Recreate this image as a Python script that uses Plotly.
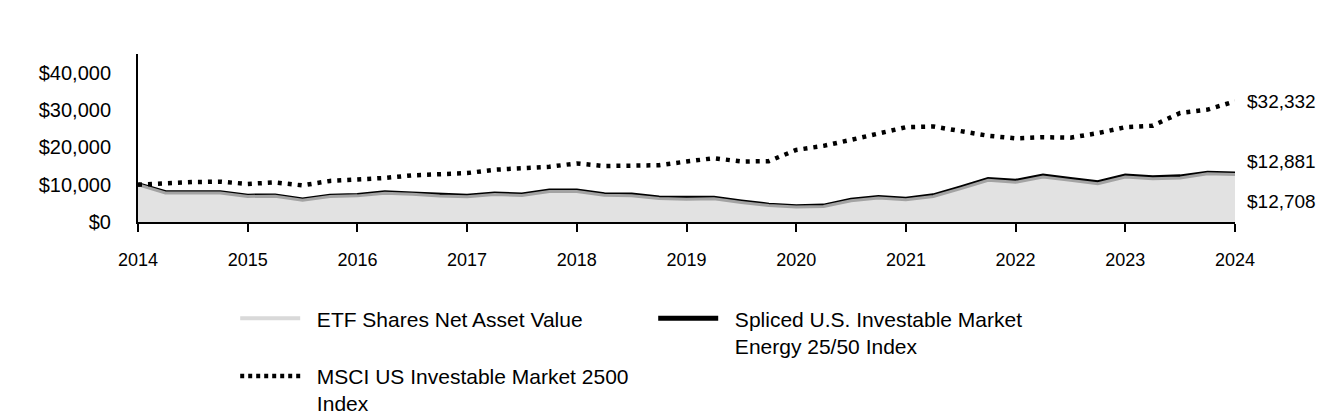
import plotly.graph_objects as go

quarters = [2014 + q * 0.25 for q in range(41)]

etf_nav = [10000, 7800, 7800, 7750, 6850, 6900, 5800, 6800, 7000, 7700, 7400,
           6950, 6750, 7350, 7100, 8150, 8150, 7150, 7050, 6300, 6100,
           6200, 5250, 4400, 4000, 4150, 5700, 6400, 5950, 6850, 8950,
           11150, 10650, 12050, 11150, 10250, 12050, 11600, 11800, 12900, 12708]

spliced_idx = [10000, 7850, 7860, 7820, 6920, 6980, 5880, 6890, 7100, 7810, 7520,
               7070, 6870, 7480, 7230, 8300, 8310, 7300, 7200, 6440, 6240,
               6350, 5380, 4510, 4100, 4260, 5850, 6560, 6100, 7020, 9160,
               11400, 10900, 12330, 11420, 10500, 12340, 11880, 12090, 13070, 12881]

msci_idx = [10000, 10500, 10700, 10800, 10200, 10600, 9800, 11000, 11300, 11800, 12500,
            12700, 13100, 14000, 14400, 14800, 15700, 15000, 15100, 15200, 16200,
            17100, 16200, 16300, 19300, 20400, 22000, 23800, 25400, 25600, 24400,
            23100, 22400, 22700, 22600, 23800, 25400, 25800, 29200, 30100, 32332]

year_ticks = list(range(2014, 2025))
y_ticks = [0, 10000, 20000, 30000, 40000]
y_ticktext = ["$0", "$10,000", "$20,000", "$30,000", "$40,000"]

PAD = "\u00a0\u00a0"
names = [PAD + "ETF Shares Net Asset Value",
         PAD + "Spliced U.S. Investable Market<br>" + PAD + "Energy 25/50 Index",
         PAD + "MSCI US Investable Market 2500<br>" + PAD + "Index"]

FONT = "Liberation Sans, Arial, sans-serif"

fig = go.Figure()

# Spliced index: thick black line, partly covered by the ETF area
fig.add_trace(go.Scatter(x=quarters, y=spliced_idx, mode="lines",
                         line=dict(color="#000000", width=5),
                         showlegend=False, hoverinfo="skip"))
# ETF area
fig.add_trace(go.Scatter(x=quarters, y=etf_nav, mode="lines", fill="tozeroy",
                         fillcolor="#e2e2e2",
                         line=dict(color="#a3a3a3", width=3),
                         showlegend=False, hoverinfo="skip"))
# MSCI dotted
fig.add_trace(go.Scatter(x=quarters, y=msci_idx, mode="lines",
                         line=dict(color="#000000", width=4.5, dash="4px,6px"),
                         showlegend=False, hoverinfo="skip"))

# Legend entries
fig.add_trace(go.Scatter(x=[None], y=[None], mode="lines", name=names[0],
                         line=dict(color="#d9d9d9", width=4)))
fig.add_trace(go.Scatter(x=[None], y=[None], mode="lines", name=names[1],
                         line=dict(color="#000000", width=5)))
fig.add_trace(go.Scatter(x=[None], y=[None], mode="lines", name=names[2],
                         line=dict(color="#000000", width=4.5, dash="4px,4px")))

# End labels
fig.add_annotation(x=quarters[-1], y=msci_idx[-1], xref="x", yref="y",
                   text=f"${msci_idx[-1]:,.0f}", showarrow=False,
                   xanchor="left", xshift=10, yshift=0)
fig.add_annotation(x=quarters[-1], y=spliced_idx[-1], xref="x", yref="y",
                   text=f"${spliced_idx[-1]:,.0f}", showarrow=False,
                   xanchor="left", xshift=10, yshift=12)
fig.add_annotation(x=quarters[-1], y=etf_nav[-1], xref="x", yref="y",
                   text=f"${etf_nav[-1]:,.0f}", showarrow=False,
                   xanchor="left", xshift=10, yshift=-27)

fig.update_layout(
    width=1344, height=420,
    margin=dict(l=138, r=109, t=54, b=198),
    paper_bgcolor="white", plot_bgcolor="white",
    font=dict(family=FONT, size=19, color="#000000"),
    annotationdefaults=dict(font=dict(family=FONT, size=18, color="#000000")),
    xaxis=dict(range=[2014, 2024], tickvals=year_ticks,
               ticktext=[str(y) for y in year_ticks],
               showline=True, linecolor="#000000", linewidth=2,
               ticks="outside", ticklen=8, tickwidth=2, tickcolor="#000000",
               showgrid=False, zeroline=False, ticklabelstandoff=12,
               tickfont=dict(size=18)),
    yaxis=dict(range=[0, 45000], tickvals=y_ticks, ticktext=y_ticktext,
               showline=True, linecolor="#000000", linewidth=2,
               ticks="", showgrid=False, zeroline=False,
               ticklabelstandoff=21, tickfont=dict(size=20)),
    legend=dict(orientation="h", xref="container", yref="container",
                x=0.175, y=0.29, xanchor="left", yanchor="top",
                entrywidth=343, entrywidthmode="pixels", itemwidth=60,
                valign="top",
                font=dict(family=FONT, size=21), tracegroupgap=10,
                bgcolor="rgba(0,0,0,0)"),
)

fig.write_html("out.html")
